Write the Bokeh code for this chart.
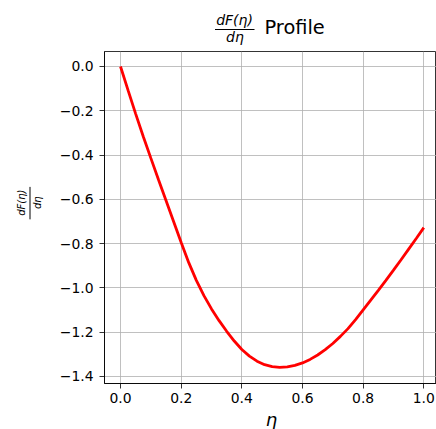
import numpy as np
from bokeh.plotting import figure
from bokeh.models import Range1d
from bokeh.layouts import column, row
from bokeh.core.properties import value
from bokeh.embed import file_html
from bokeh.resources import INLINE

# ---- data ----
eta = [0.000, 0.025, 0.050, 0.075, 0.100, 0.125, 0.150, 0.175, 0.200, 0.225,
       0.250, 0.275, 0.300, 0.325, 0.350, 0.375, 0.400, 0.425, 0.450, 0.475,
       0.500, 0.525, 0.550, 0.575, 0.600, 0.625, 0.650, 0.675, 0.700, 0.725,
       0.750, 0.775, 0.800, 0.825, 0.850, 0.875, 0.900, 0.925, 0.950, 0.975, 1.000]
dF_deta = [0.000, -0.108, -0.214, -0.316, -0.414, -0.510, -0.605, -0.700, -0.795, -0.886,
           -0.966, -1.035, -1.095, -1.148, -1.196, -1.240, -1.278, -1.308, -1.331, -1.347,
           -1.356, -1.359, -1.357, -1.350, -1.339, -1.323, -1.303, -1.279, -1.251, -1.219,
           -1.184, -1.143, -1.099, -1.055, -1.011, -0.966, -0.920, -0.873, -0.825, -0.777, -0.728]

x_ticks = [0.0, 0.2, 0.4, 0.6, 0.8, 1.0]
x_tick_labels = ["0.0", "0.2", "0.4", "0.6", "0.8", "1.0"]
y_ticks = [0.0, -0.2, -0.4, -0.6, -0.8, -1.0, -1.2, -1.4]
y_tick_labels = ["0.0", "\u22120.2", "\u22120.4", "\u22120.6", "\u22120.8",
                 "\u22121.0", "\u22121.2", "\u22121.4"]

title_num = "dF(\u03b7)"
title_den = "d\u03b7"
title_word = "Profile"
y_num = "dF(\u03b7)"
y_den = "d\u03b7"
x_label = "\u03b7"

FONT = value("DejaVu Sans")

# ---- layout (page pixels) ----
PAGE_W = 436
TOP_H = 51          # title strip
MID_H = 358         # main plot row
BOT_H = 20          # x-label strip
YL_W = 50           # y-label strip
FRAME_L, FRAME_W, FRAME_H = 104, 332, 332
X0, X1 = -0.0528, 1.0418
Y0, Y1 = -1.4318, 0.0677


def deco(left, top, width, height):
    """Axis-less strip whose data coordinates equal page pixels (y downward)."""
    f = figure(width=width, height=height, output_backend="svg", toolbar_location=None,
               x_range=Range1d(left, left + width), y_range=Range1d(top + height, top),
               x_axis_location=None, y_axis_location=None, min_border=0)
    f.outline_line_color = None
    f.background_fill_color = "white"
    f.border_fill_color = "white"
    f.grid.visible = False
    return f


# ---- main plot ----
p = figure(width=PAGE_W - YL_W, height=MID_H, output_backend="svg", toolbar_location=None,
           x_range=Range1d(X0, X1), y_range=Range1d(Y0, Y1),
           min_border_left=FRAME_L - YL_W, min_border_top=0, min_border_right=0,
           min_border_bottom=MID_H - FRAME_H)
p.background_fill_color = "white"
p.border_fill_color = "white"
p.outline_line_color = "black"
p.outline_line_width = 0.8
p.outline_line_alpha = 1.0

p.line(eta, dF_deta, line_color="red", line_width=2.8)

p.xaxis.ticker = x_ticks
p.yaxis.ticker = y_ticks
p.xaxis.major_label_overrides = dict(zip(x_ticks, x_tick_labels))
p.yaxis.major_label_overrides = dict(zip(y_ticks, y_tick_labels))
for ax in (p.xaxis, p.yaxis):
    ax.axis_line_color = "black"
    ax.axis_line_width = 0.8
    ax.major_tick_line_color = "black"
    ax.major_tick_line_width = 0.8
    ax.major_tick_out = 5
    ax.major_tick_in = 0
    ax.minor_tick_line_color = None
    ax.major_label_text_font = "DejaVu Sans"
    ax.major_label_text_font_size = "13.9px"
    ax.major_label_text_color = "black"
p.xaxis.major_label_standoff = 4
p.yaxis.major_label_standoff = 6

for g in (p.xgrid, p.ygrid):
    g.grid_line_color = "#b0b0b0"
    g.grid_line_width = 0.8
    g.grid_line_alpha = 1.0

# ---- title strip: fraction dF(eta)/d(eta) + "Profile" ----
t = deco(0, 0, PAGE_W, TOP_H)
t.text(x=[234, 234.5], y=[19.5, 36.2], text=[title_num, title_den], text_font=FONT,
       text_font_size="14px", text_font_style="italic", text_align="center",
       text_baseline="middle", text_color="black")
t.segment(x0=[214.5], y0=[29], x1=[254], y1=[29], line_color="black", line_width=1.0)
t.text(x=[264], y=[27.3], text=[title_word], text_font=FONT, text_font_size="19.4px",
       text_align="left", text_baseline="middle", text_color="black")

# ---- y-label strip: rotated fraction ----
yl = deco(0, TOP_H, YL_W, MID_H)
yl.text(x=[21, 36.5], y=[214, 214], text=[y_num, y_den], text_font=FONT,
        text_font_size="10px", text_font_style="italic", text_align="center",
        text_baseline="middle", angle=np.pi / 2, text_color="black")
yl.segment(x0=[29.5], y0=[197], x1=[29.5], y1=[232], line_color="black", line_width=1.0)

# ---- x-label strip ----
xl = deco(0, TOP_H + MID_H, PAGE_W, BOT_H)
xl.text(x=[271], y=[418.5], text=[x_label], text_font=FONT, text_font_size="18px",
        text_font_style="italic", text_align="center", text_baseline="middle",
        text_color="black")

layout = column(t, row(yl, p, spacing=0), xl, spacing=0)
open("out.html", "w").write(file_html(layout, INLINE))
